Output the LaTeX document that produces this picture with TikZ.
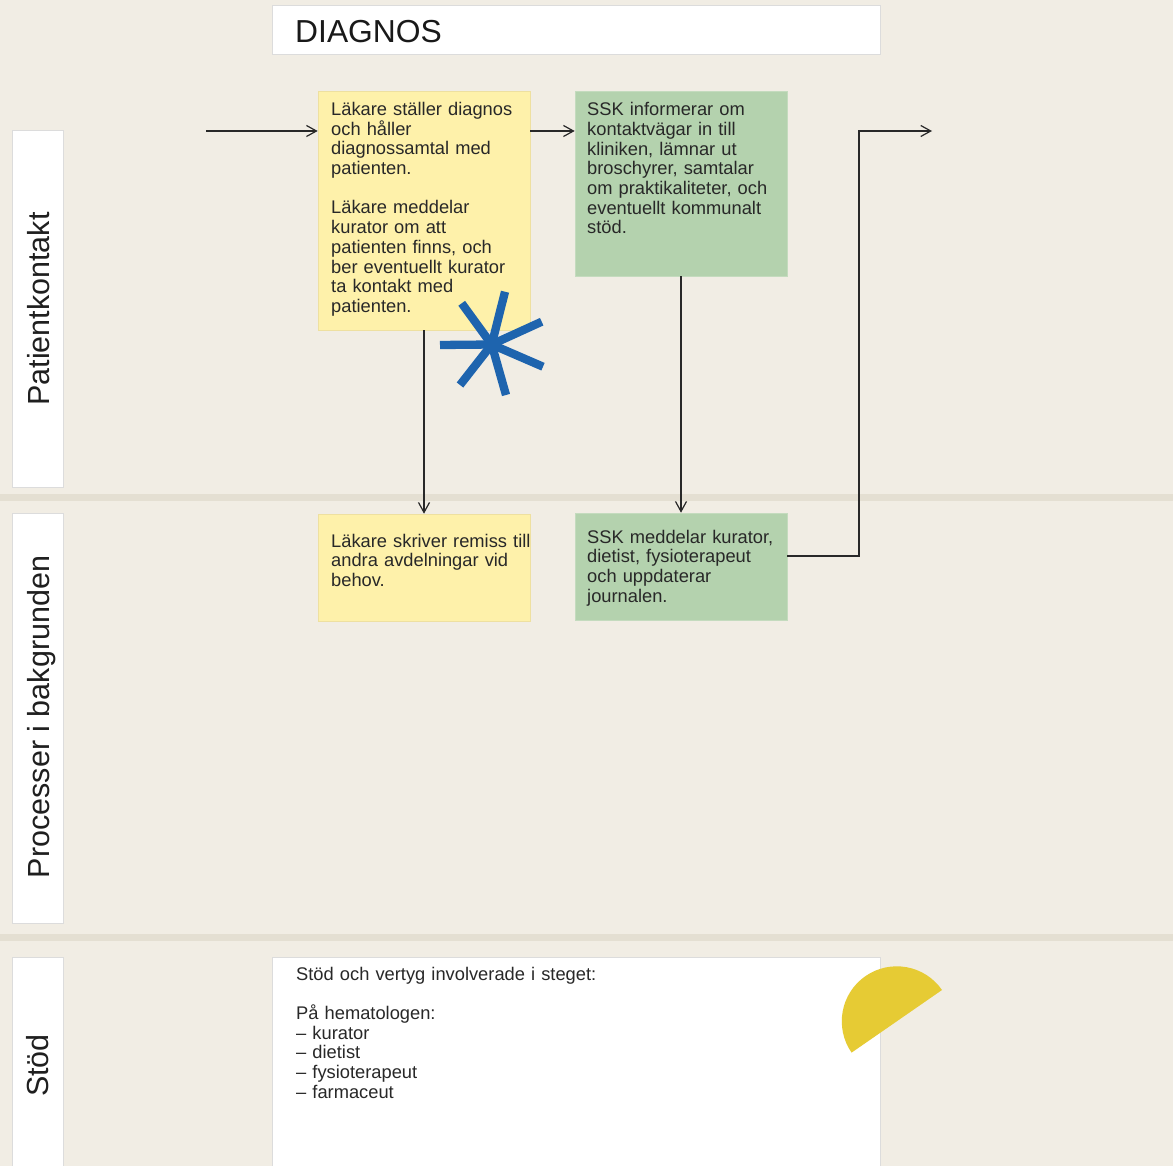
\documentclass[tikz,border=0pt]{standalone}
\usepackage{fontspec}
\setmainfont{Liberation Sans}
\usetikzlibrary{arrows.meta}

\definecolor{paper}{RGB}{241,237,228}
\definecolor{band}{RGB}{228,223,210}
\definecolor{noteyellow}{RGB}{254,241,170}
\definecolor{noteyellowrule}{RGB}{238,224,160}
\definecolor{notegreen}{RGB}{180,210,174}
\definecolor{notegreenrule}{RGB}{196,219,190}
\definecolor{ink}{RGB}{40,40,40}
\definecolor{starblue}{RGB}{30,100,174}
\definecolor{sunyellow}{RGB}{230,203,52}
\definecolor{framegray}{RGB}{220,220,220}

\begin{document}
\begin{tikzpicture}[x=1pt,y=-1pt,
  note/.style={draw, line width=0.6pt, minimum width=212pt, inner sep=0pt},
  yellownote/.style={note, fill=noteyellow, draw=noteyellowrule},
  greennote/.style={note, fill=notegreen, draw=notegreenrule},
  notetext/.style={anchor=base west, inner sep=0pt, text width=205pt, align=left,
    text=ink, font=\fontsize{18.3}{19.7}\selectfont},
  whitebox/.style={fill=white, draw=framegray, line width=0.6pt, inner sep=0pt},
  lanelabel/.style={rotate=90, anchor=base, inner sep=0pt, text=black!88,
    font=\fontsize{30.5}{34}\selectfont},
  flow/.style={draw=ink, line width=1.2pt, -{Straight Barb[length=10pt,width=11pt]}},
  starline/.style={draw=starblue, line width=8.3pt}]

% canvas
\fill[paper] (0,0) rectangle (1173,1166);
\useasboundingbox (0,0) rectangle (1173,1166);

% lane separators
\fill[band] (0,494) rectangle (1173,501);
\fill[band] (0,934) rectangle (1173,941);

% heading
\node[whitebox, minimum width=608pt, minimum height=49pt] (title) at (576,29.5) {};
\node[anchor=base west, inner sep=0pt, text=black!90, font=\fontsize{31.8}{32}\selectfont]
  (titletext) at (295,43) {DIAGNOS};

% lane labels
\node[whitebox, minimum width=51pt, minimum height=357pt] (lane1) at (37.5,308.5) {};
\node[lanelabel] (lane1text) at (49,309) {Patientkontakt};
\node[whitebox, minimum width=51pt, minimum height=410pt] (lane2) at (37.5,718) {};
\node[lanelabel] (lane2text) at (49,717) {Processer i bakgrunden};
\node[whitebox, minimum width=51pt, minimum height=215pt] (lane3) at (37.5,1064.5) {};
\node[lanelabel] (lane3text) at (48,1065.5) {Stöd};

% process notes
\node[yellownote, minimum height=239pt] (y1) at (424,210.5) {};
\node[notetext] (y1text) at (331,115.5) {Läkare ställer diagnos\\och håller\\diagnossamtal med\\patienten.\\~\\Läkare meddelar\\kurator om att\\patienten finns, och\\ber eventuellt kurator\\ta kontakt med\\patienten.};

\node[greennote, minimum height=185pt] (g1) at (681,183.5) {};
\node[notetext] (g1text) at (587,115.7) {SSK informerar om\\kontaktvägar in till\\kliniken, lämnar ut\\broschyrer, samtalar\\om praktikaliteter, och\\eventuellt kommunalt\\stöd.};

\node[yellownote, minimum height=107pt] (y2) at (424,567.5) {};
\node[notetext] (y2text) at (331,547) {Läkare skriver remiss till\\andra avdelningar vid\\behov.};

\node[greennote, minimum height=107pt] (g2) at (681,566.5) {};
\node[notetext] (g2text) at (587,543) {SSK meddelar kurator,\\dietist, fysioterapeut\\och uppdaterar\\journalen.};

% support box
\node[whitebox, minimum width=608pt, minimum height=217pt] (support) at (576,1065.5) {};
\node[notetext, text width=400pt] (supporttext) at (296,980) {Stöd och vertyg involverade i steget:\\~\\På hematologen:\\– kurator\\– dietist\\– fysioterapeut\\– farmaceut};

% connectors
\coordinate (entry) at (206,131);
\coordinate (bend) at (859,131);
\coordinate (exit) at (932,131);
\draw[flow] (entry) -- (entry -| y1.west);
\draw[flow] (y1.east |- entry) -- (g1.west |- entry);
\draw[flow] (y1.south) -- (y2.north);
\draw[flow] (g1.south) -- (g2.north);
\draw[flow] ([yshift=10.6pt]g2.east) -| (bend) -- (exit);

% blue asterisk
\coordinate (star) at (491.7,344.5);
\foreach \px/\py in {440/345, 461.7/303.3, 505/291.7, 541.7/321.7, 543/366.7, 506/395, 460/385}
  \draw[starline] (star) -- (\px,\py);

% yellow half disc
\fill[sunyellow] (942,990) arc[start angle=-34.7, end angle=-214.7, radius=55] -- cycle;

\end{tikzpicture}
\end{document}
